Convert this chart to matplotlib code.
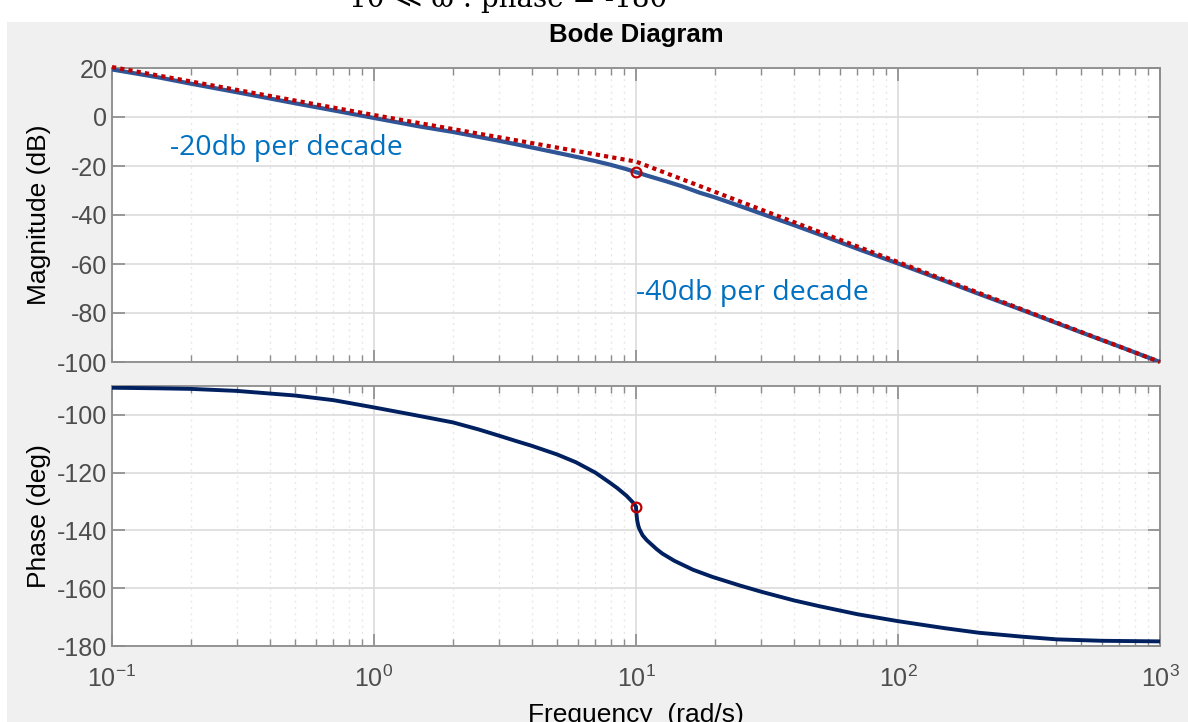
import numpy as np
import matplotlib
matplotlib.use("Agg")
import matplotlib.pyplot as plt
from matplotlib.patches import Rectangle
from matplotlib.ticker import LogLocator, NullFormatter, FixedLocator

plt.rcParams["axes.unicode_minus"] = False
plt.rcParams["mathtext.fontset"] = "custom"
plt.rcParams["mathtext.rm"] = "Liberation Sans"
plt.rcParams["mathtext.it"] = "Liberation Sans"
plt.rcParams["mathtext.bf"] = "Liberation Sans:bold"
plt.rcParams["mathtext.default"] = "rm"

# magnitude curve
mag_freq = [0.1, 0.15, 0.2, 0.3, 0.5, 0.7, 1, 1.5, 2, 3, 4.2, 5, 6, 7, 8, 9, 10,
            11, 12, 13, 15, 17.5, 20, 25, 30, 40, 50, 70, 100, 150, 200, 300, 500,
            700, 1000]
mag_db = [19.4, 16.2, 13.6, 10.1, 5.6, 2.7, -0.4, -3.9, -6.1, -9.7, -12.9, -14.6,
          -16.4, -18.0, -19.5, -21.0, -22.5, -23.9, -25.1, -26.2, -28.3, -30.9,
          -32.8, -36.4, -39.4, -44.1, -47.9, -53.8, -59.8, -66.8, -71.9, -78.9,
          -87.9, -93.7, -100]

# straight-line asymptote (red dotted)
asym_freq = [0.1, 1, 10, 100, 1000]
asym_db = [20.4, 0.8, -18.2, -59.2, -100]

# phase curve
ph_freq = [0.1, 0.15, 0.2, 0.3, 0.5, 0.7, 0.97, 1.4, 2.0, 2.5, 3.0, 3.5, 4.0, 5.0,
           5.9, 7.0, 7.9, 8.5, 9.2, 9.5, 9.8, 10.0, 10.02, 10.05, 10.1, 10.2, 10.3,
           10.6, 11, 12, 12.6, 14, 16.5, 19.6, 25, 30.3, 40, 50, 70, 100, 150, 203,
           300, 403, 600, 1000]
ph_deg = [-90.6, -90.8, -91.0, -91.7, -93.3, -94.9, -97.2, -99.9, -102.6, -105.0,
          -107.2, -109.1, -110.7, -113.7, -116.4, -120.0, -123.3, -125.4, -128.0,
          -129.3, -130.6, -131.8, -133.2, -134.6, -136.4, -138.3, -139.5, -141.7,
          -143.4, -146.5, -148.0, -150.5, -153.6, -156.1, -159.1, -161.3, -164.2,
          -166.2, -169.0, -171.4, -173.8, -175.4, -176.8, -177.7, -178.2, -178.4]

# marked points at the corner frequency
corner_freq = 10
corner_mag = -22.5
corner_phase = -131.8

mag_ticks = [20, 0, -20, -40, -60, -80, -100]
phase_ticks = [-100, -120, -140, -160, -180]

W, H = 1188, 722
fig = plt.figure(figsize=(W / 100, H / 100), dpi=100)
fig.patch.set_facecolor("white")
fig.add_artist(Rectangle((7 / W, 0), 1 - 7 / W, 1 - 22 / H, transform=fig.transFigure,
                         facecolor="#f0f0f0", edgecolor="none", zorder=0))

# text from the page above, cut off by the screenshot
fig.text(515 / W, 1 + 1 / H, "10 \u226a \u03c9 : phase = -180\u00b0", ha="center",
         va="center", fontsize=20, color="black", family=["DejaVu Serif", "DejaVu Sans"])

ax1 = fig.add_axes([112 / W, 1 - 362 / H, 1048 / W, 294 / H])
ax2 = fig.add_axes([112 / W, 1 - 646 / H, 1048 / W, 260 / H])

tick_color = "#4d4d4d"
spine_color = "#8c8c8c"

for ax in (ax1, ax2):
    ax.set_xscale("log")
    ax.set_xlim(0.1, 1000)
    ax.set_facecolor("white")
    ax.xaxis.set_major_locator(LogLocator(base=10, numticks=10))
    ax.xaxis.set_minor_locator(LogLocator(base=10, subs=np.arange(2, 10), numticks=20))
    ax.xaxis.set_minor_formatter(NullFormatter())
    ax.grid(True, which="major", color="#dcdcdc", linewidth=1.2, linestyle="-")
    ax.grid(True, which="minor", axis="x", color="#e8e8e8", linewidth=1.0, linestyle=(0, (1.5, 3)))
    ax.tick_params(which="both", direction="in", top=True, right=True, colors=spine_color,
                   labelcolor=tick_color, labelsize=18)
    ax.tick_params(which="major", length=9, width=1.2)
    ax.tick_params(which="minor", length=5, width=1.0)
    for s in ax.spines.values():
        s.set_color(spine_color)
        s.set_linewidth(1.3)
    ax.set_axisbelow(True)

# magnitude
ax1.plot(asym_freq, asym_db, color="#c00000", linewidth=3, linestyle=(0, (1, 1)),
         clip_on=False, zorder=4)
ax1.plot(mag_freq, mag_db, color="#2f5597", linewidth=3, zorder=3)
ax1.plot([corner_freq], [corner_mag], marker="o", markersize=7, markerfacecolor="none",
         markeredgecolor="#c00000", markeredgewidth=1.6, zorder=5)
ax1.set_ylim(-100, 20)
ax1.yaxis.set_major_locator(FixedLocator(mag_ticks))
ax1.set_xticklabels([])
ax1.set_ylabel("Magnitude (dB)", fontsize=19, labelpad=4)
ax1.set_title("Bode Diagram", fontsize=18.5, fontweight="bold", pad=19)

ax1.text(0.167, -12.5, "-20db per decade", color="#0070c0", fontsize=20.5,
         family=["Open Sans"], va="center", ha="left")
ax1.text(10.0, -72, "-40db per decade", color="#0070c0", fontsize=20.5,
         family=["Open Sans"], va="center", ha="left")

# phase
ax2.plot(ph_freq, ph_deg, color="#002060", linewidth=2.8, zorder=3)
ax2.plot([corner_freq], [corner_phase], marker="o", markersize=7, markerfacecolor="none",
         markeredgecolor="#c00000", markeredgewidth=1.6, zorder=5)
ax2.set_ylim(-180, -90)
ax2.yaxis.set_major_locator(FixedLocator(phase_ticks))
ax2.set_ylabel("Phase (deg)", fontsize=19, labelpad=4)
ax2.set_xlabel("Frequency  (rad/s)", fontsize=19, labelpad=8)
ax2.tick_params(axis="x", which="major", pad=14)

for ax in (ax1, ax2):
    for lab in ax.get_yticklabels() + ax.get_xticklabels():
        lab.set_family(["Liberation Sans"])
    ax.yaxis.label.set_family(["Liberation Sans"])
    ax.xaxis.label.set_family(["Liberation Sans"])
ax1.title.set_family(["Liberation Sans"])

fig.savefig("out.png", dpi=100, facecolor=fig.get_facecolor())
